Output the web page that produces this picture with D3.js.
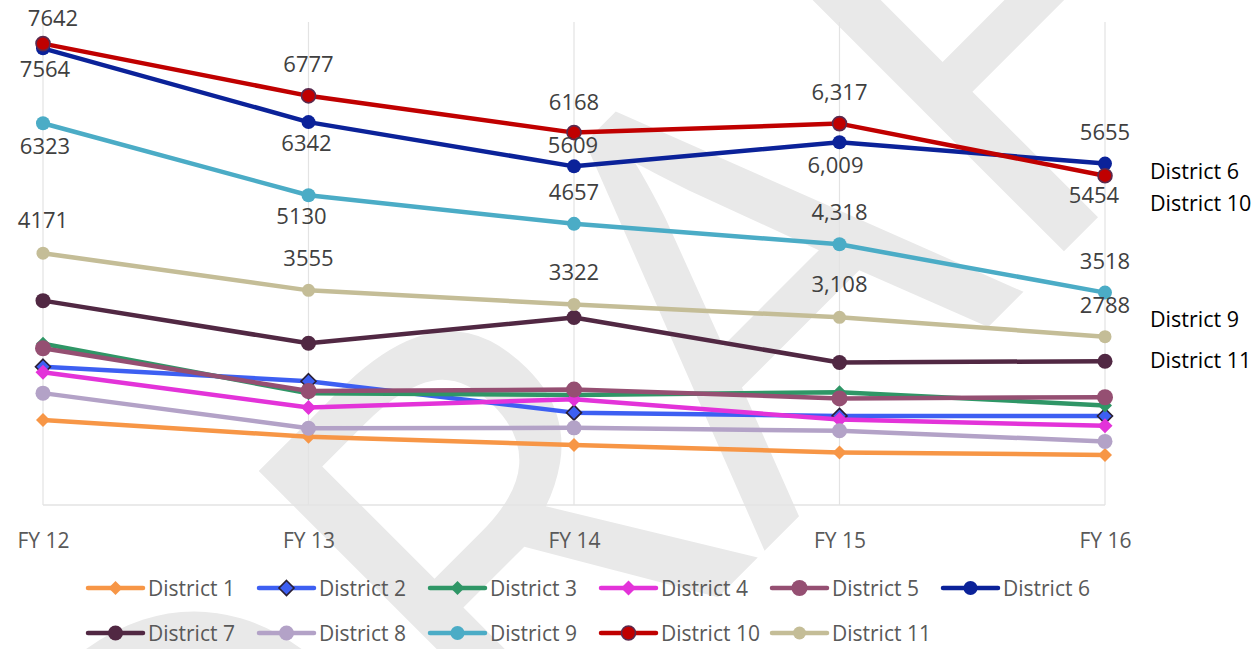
<!DOCTYPE html>
<html>
<head>
<meta charset="utf-8">
<script src="https://cdn.jsdelivr.net/npm/d3@7"></script>
<style>
  body { margin: 0; background: #fff; }
  svg { display: block; font-family: "Open Sans", "Noto Sans", sans-serif; }
</style>
</head>
<body>
<div id="container"></div>
<script>
/* DATA */
const years = ["FY 12", "FY 13", "FY 14", "FY 15", "FY 16"];
const districts = ["District 1", "District 2", "District 3", "District 4", "District 5", "District 6",
  "District 7", "District 8", "District 9", "District 10", "District 11"];

const district1 = [1406, 1130, 994, 870, 830];
const district2 = [2290, 2050, 1530, 1476, 1474];
const district3 = [2670, 1850, 1822, 1868, 1650];
const district4 = [2200, 1615, 1750, 1415, 1312];
const district5 = [2596, 1888, 1912, 1766, 1785];
const district6 = [7564, 6342, 5609, 6009, 5655];
const district7 = [3385, 2678, 3105, 2360, 2382];
const district8 = [1853, 1272, 1278, 1230, 1053];
const district9 = [6323, 5130, 4657, 4318, 3518];
const district10 = [7642, 6777, 6168, 6317, 5454];
const district11 = [4171, 3555, 3322, 3108, 2788];

// data labels as printed (FY 15 ones carry a thousands separator)
const labels6 = ["7564", "6342", "5609", "6,009", "5655"];
const labels9 = ["6323", "5130", "4657", "4,318", "3518"];
const labels10 = ["7642", "6777", "6168", "6,317", "5454"];
const labels11 = ["4171", "3555", "3322", "3,108", "2788"];

// text boxes at the right edge, placed at a value height
const sideNotes = ["District 6", "District 10", "District 9", "District 11"];
const sideNoteValues = [5530, 5000, 3070, 2390];

/* CONSTANTS AND GLOBALS */
const width = 1252, height = 649,
  margin = { top: 22, bottom: 144, left: 43, right: 147 };

const series = [district1, district2, district3, district4, district5, district6,
  district7, district8, district9, district10, district11];

// styles per district: colour, marker, marker size, marker outline
const styles = [
  { color: "#f79646", shape: "diamond", size: 7 },
  { color: "#3d5ff2", shape: "diamond", size: 7.5, stroke: "#2a1f33" },
  { color: "#2f9666", shape: "diamond", size: 7 },
  { color: "#e333d9", shape: "diamond", size: 7.5 },
  { color: "#954f72", shape: "circle", size: 8 },
  { color: "#0b2299", shape: "circle", size: 7 },
  { color: "#512843", shape: "circle", size: 7.5 },
  { color: "#b3a2c7", shape: "circle", size: 7.5 },
  { color: "#4bacc6", shape: "circle", size: 7 },
  { color: "#c00000", shape: "circle", size: 7, stroke: "#5a2a4e" },
  { color: "#c4bd97", shape: "circle", size: 6.5 }
];

// which series get data labels, and label offsets [dx, dy] from the point
const labelSets = [
  { idx: 5, text: labels6, off: [[2, 21], [-2, 21], [-1, -21], [-4, 23], [0, -31]] },
  { idx: 8, text: labels9, off: [[2, 23], [-7, 21], [0, -32], [0, -32], [0, -32]] },
  { idx: 9, text: labels10, off: [[10, -26], [0, -32], [0, -31], [0, -32], [-11, 19]] },
  { idx: 10, text: labels11, off: [[0, -33], [0, -32], [0, -32], [0, -33], [0, -32]] }
];

const svg = d3.select("#container")
  .append("svg")
  .attr("width", width)
  .attr("height", height);

// DRAFT watermark, behind everything
svg.append("text")
  .attr("transform", "translate(690,330) rotate(-45)")
  .attr("text-anchor", "middle")
  .attr("dy", "0.36em")
  .attr("font-size", 580)
  .attr("fill", "#e9e9e9")
  .text("DRAFT");

/* SCALES */
const x = d3.scalePoint()
  .domain(years)
  .range([margin.left, 1105]);

const y = d3.scaleLinear()
  .domain([0, 8000])
  .range([505, margin.top]);

const y0 = y(0);

// vertical gridlines + bottom axis line
svg.append("g")
  .selectAll("line")
  .data(years)
  .join("line")
  .attr("x1", d => x(d)).attr("x2", d => x(d))
  .attr("y1", y(8000)).attr("y2", y0)
  .attr("stroke", "#e3e3e3")
  .attr("stroke-width", 1.2);

const xAxis = svg.append("g")
  .attr("transform", `translate(0,${y0})`)
  .call(d3.axisBottom(x).tickSize(0).tickPadding(28));
xAxis.select(".domain")
  .attr("d", `M${x(years[0])},0H${x(years[4])}`)
  .attr("stroke", "#e3e3e3")
  .attr("stroke-width", 1.5);
xAxis.selectAll("text")
  .attr("font-size", 21)
  .attr("font-family", "'Open Sans', sans-serif")
  .attr("fill", "#595959");

/* LINES */
const line = d3.line()
  .x((d, i) => x(years[i]))
  .y(d => y(d));

const symbolPath = (st) => {
  if (st.shape === "diamond") {
    const s = st.size;
    return `M0,${-s}L${s},0L0,${s}L${-s},0Z`;
  }
  return d3.symbol(d3.symbolCircle, Math.PI * st.size * st.size)();
};

const plot = svg.append("g");
series.forEach((vals, k) => {
  const st = styles[k];
  const g = plot.append("g");
  g.append("path")
    .datum(vals)
    .attr("d", line)
    .attr("fill", "none")
    .attr("stroke", st.color)
    .attr("stroke-width", 4.5)
    .attr("stroke-linejoin", "round");
  g.selectAll("path.marker")
    .data(vals)
    .join("path")
    .attr("class", "marker")
    .attr("transform", (d, i) => `translate(${x(years[i])},${y(d)})`)
    .attr("d", symbolPath(st))
    .attr("fill", st.color)
    .attr("stroke", st.stroke || "none")
    .attr("stroke-width", 1.6);
});

/* DATA LABELS */
labelSets.forEach(ls => {
  svg.append("g")
    .selectAll("text")
    .data(series[ls.idx])
    .join("text")
    .attr("x", (d, i) => x(years[i]) + ls.off[i][0])
    .attr("y", (d, i) => y(d) + ls.off[i][1])
    .attr("dy", "0.36em")
    .attr("text-anchor", "middle")
    .attr("font-size", 22)
    .attr("fill", "#404040")
    .text((d, i) => ls.text[i]);
});

// side notes
svg.append("g")
  .selectAll("text")
  .data(sideNotes)
  .join("text")
  .attr("x", 1150)
  .attr("y", (d, i) => y(sideNoteValues[i]))
  .attr("dy", "0.36em")
  .attr("font-size", 21.5)
  .attr("fill", "#000")
  .text(d => d);

/* LEGEND */
const legend = svg.append("g");
const items = legend.selectAll("g")
  .data(districts)
  .join("g")
  .attr("transform", (d, i) => `translate(${88 + (i % 6) * 171},${i < 6 ? 588 : 633})`);
items.append("line")
  .attr("x1", 0).attr("x2", 55)
  .attr("stroke", (d, i) => styles[i].color)
  .attr("stroke-width", 4.5)
  .attr("stroke-linecap", "round");
items.append("path")
  .attr("transform", "translate(27.5,0)")
  .attr("d", (d, i) => symbolPath(styles[i]))
  .attr("fill", (d, i) => styles[i].color)
  .attr("stroke", (d, i) => styles[i].stroke || "none")
  .attr("stroke-width", 1.6);
items.append("text")
  .attr("x", 60)
  .attr("dy", "0.36em")
  .attr("font-size", 21)
  .attr("fill", "#595959")
  .text(d => d);
</script>
</body>
</html>
